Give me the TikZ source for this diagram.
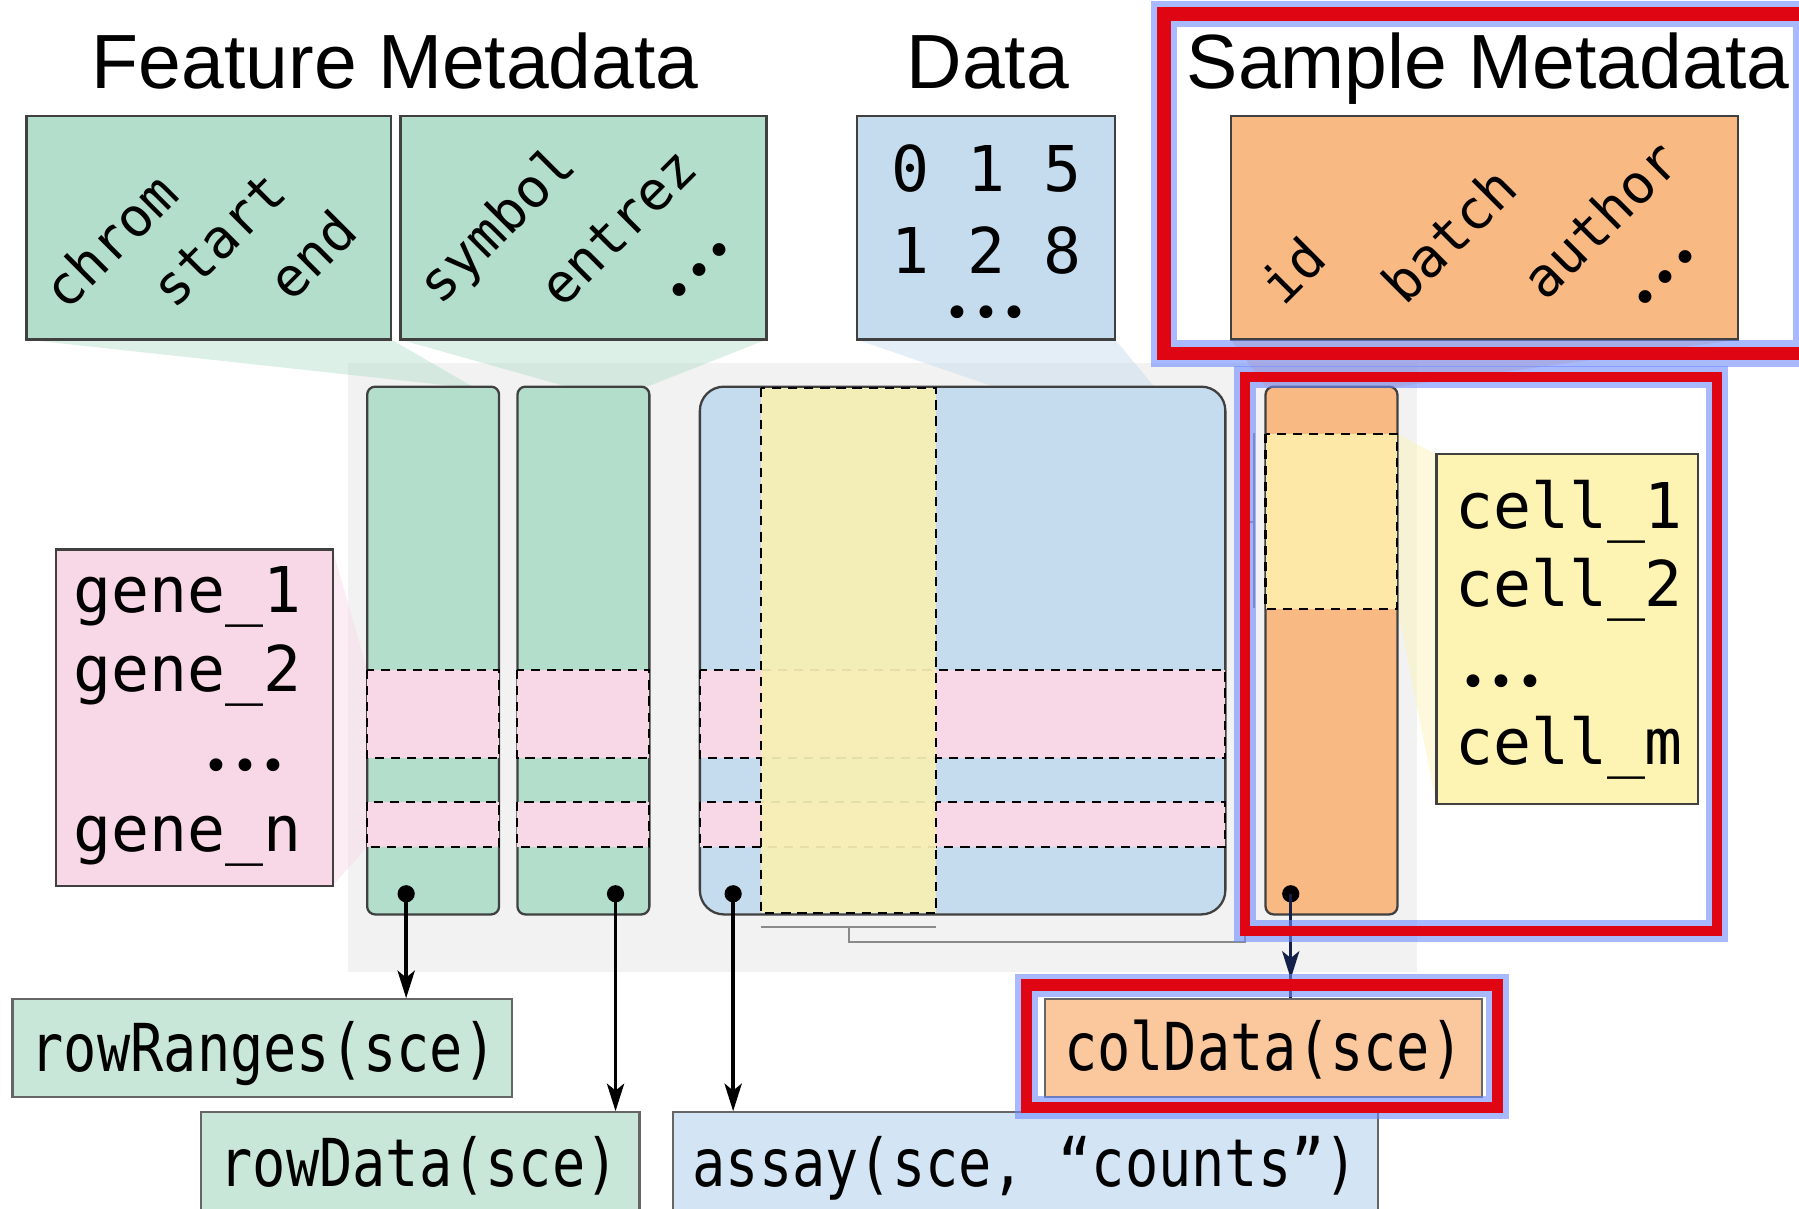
\documentclass[tikz,border=0pt]{standalone}
\usepackage{fontspec}
\usepackage{graphicx}
\setmainfont{Liberation Sans}
\newfontfamily\monof{DejaVu Sans Mono}
\newfontfamily\dotf{Fira Sans}
\usetikzlibrary{arrows.meta}

\definecolor{grn}{HTML}{B3DECB}
\definecolor{grnl}{HTML}{C9E7D9}
\definecolor{blu}{HTML}{C5DBEE}
\definecolor{blul}{HTML}{D3E5F4}
\definecolor{pnk}{HTML}{F8D8E6}
\definecolor{ylw}{HTML}{F7F0B4}
\definecolor{ylwc}{HTML}{FDF3B3}
\definecolor{org}{HTML}{F9B982}
\definecolor{orgl}{HTML}{FBC89D}
\definecolor{orgy}{HTML}{FDE8A8}
\definecolor{panel}{HTML}{F2F2F2}
\definecolor{hred}{HTML}{E00512}
\definecolor{glow}{RGB}{110,139,255}
\definecolor{edge}{HTML}{404040}
\definecolor{brkc}{HTML}{8A8A8A}
\definecolor{navy}{HTML}{14204A}

\tikzset{
  boxst/.style={draw=edge, line width=2pt, inner sep=0pt},
  colst/.style={draw=edge, line width=2pt, inner sep=0pt, rounded corners=7pt},
  matst/.style={draw=edge, line width=2pt, inner sep=0pt, rounded corners=21pt},
  bandst/.style={fill=pnk, draw=black, line width=1.8pt, dash pattern=on 8pt off 6pt},
  ttl/.style={font=\fontsize{67}{67}\selectfont, anchor=base, inner sep=0pt},
  monotxt/.style={font=\monof\fontsize{55}{55}\selectfont, inner sep=0pt},
  rottxt/.style={font=\monof\fontsize{47}{47}\selectfont, rotate=45, inner sep=0pt},
  dottxt/.style={font=\dotf\fontsize{80}{80}\selectfont, inner sep=0pt},
  lbltxt/.style={font=\monof\fontsize{57.6}{57.6}\selectfont, anchor=base, inner sep=0pt},
  funnelst/.style={fill=#1, opacity=0.45},
  glowline/.style={draw=glow, draw opacity=0.6, line width=#1},
  redline/.style={draw=hred, line width=#1},
  arrst/.style={line width=3pt, -{Stealth[length=24pt,width=15pt,inset=6pt]}},
  dotst/.style={circle, fill=black, inner sep=0pt, minimum size=15pt},
  brk/.style={draw=brkc, line width=2.2pt}
}
\newcommand{\lbltext}[1]{\scalebox{0.836}[1]{#1}}
\newcommand{\spdots}{.\kern5.5pt.\kern5.5pt.}

\begin{document}
\begin{tikzpicture}[x=1pt,y=-1pt]
\useasboundingbox (0,0) rectangle (1568,1053);
\fill[white] (0,0) rectangle (1568,1053);

% grey panel
\fill[panel] (303,316.5) rectangle (1235,847);

% funnels
\fill[funnelst=grn] (23,296) -- (341,296) -- (412,337) -- (400,337) -- cycle;
\fill[funnelst=grn] (349,296) -- (668,296) -- (564,337) -- (494,337) -- cycle;
\fill[funnelst=blu] (747,296) -- (972,296) -- (1006,337) -- (866,337) -- cycle;
\fill[funnelst=org] (1073,296) -- (1515,296) -- (1218,337) -- (1103,337) -- cycle;
\fill[funnelst=pnk] (290,479) -- (290,772) -- (320,738) -- (320,584) -- cycle;
\fill[funnelst=ylwc] (1218,378) -- (1252,396) -- (1252,701) -- (1218,531) -- cycle;

% titles
\node[ttl] (tfeat) at (344.5,77) {Feature Metadata};
\node[ttl] (tdata) at (861,77) {Data};
\node[ttl] (tsamp) at (1297,77) {Sample Metadata};

% top boxes
\node[boxst, fill=grn, minimum width=318pt, minimum height=195pt] (chrombox) at (182,198.5) {};
\node[boxst, fill=grn, minimum width=319pt, minimum height=195pt] (symbox) at (508.5,198.5) {};
\node[boxst, fill=blu, minimum width=225pt, minimum height=195pt] (databox) at (859.5,198.5) {};
\node[boxst, fill=org, minimum width=442pt, minimum height=195pt] (sampbox) at (1294,198.5) {};

% rotated column names
\node[rottxt] (wchrom) at (96,210) {chrom};
\node[rottxt] (wstart) at (191,209) {start};
\node[rottxt] (wend) at (272,222) {end};
\node[rottxt] (wsym) at (435,198) {symbol};
\node[rottxt] (wentrez) at (539,198) {entrez};
\node[dottxt, rotate=45] (wdots1) at (610,235) {\spdots};
\node[rottxt] (wid) at (1126,236) {id};
\node[rottxt] (wbatch) at (1263,205) {batch};
\node[rottxt] (wauthor) at (1395,191) {author};
\node[dottxt, rotate=45] (wdots2) at (1452,241) {\spdots};

% data numbers
\node[monotxt, anchor=base] (nrow1) at (859.5,167) {0 1 5};
\node[monotxt, anchor=base] (nrow2) at (859.5,238) {1 2 8};
\node[dottxt] (ndots) at (859.5,271.7) {\spdots};

% gene box
\node[boxst, fill=pnk, minimum width=241pt, minimum height=293pt] (genebox) at (169.5,625.5) {};
\node[monotxt, anchor=base west] (g1) at (64,534) {gene\_1};
\node[monotxt, anchor=base west] (g2) at (64,603) {gene\_2};
\node[dottxt] (gdots) at (213.7,667) {\spdots};
\node[monotxt, anchor=base west] (gn) at (64,742) {gene\_n};

% cell box
\node[boxst, fill=ylwc, minimum width=228pt, minimum height=305pt] (cellbox) at (1366,548.5) {};
\node[monotxt, anchor=base west] (c1) at (1268,461) {cell\_1};
\node[monotxt, anchor=base west] (c2) at (1268,528.7) {cell\_2};
\node[dottxt] (cdots) at (1309,593.6) {\spdots};
\node[monotxt, anchor=base west] (cm) at (1268,666) {cell\_m};

% columns and matrix
\node[colst, fill=grn, minimum width=115pt, minimum height=460pt] (col1) at (377.5,567) {};
\node[colst, fill=grn, minimum width=115pt, minimum height=460pt] (col2) at (508.5,567) {};
\node[matst, fill=blu, minimum width=458pt, minimum height=460pt] (mat) at (839,567) {};
\node[colst, fill=org, minimum width=115pt, minimum height=460pt] (ocol) at (1160.5,567) {};

% pink row bands
\foreach \xa/\xb in {320/435, 451/566, 610/1068}{
  \filldraw[bandst] (\xa,584) rectangle (\xb,661);
  \filldraw[bandst] (\xa,699) rectangle (\xb,738);
}
% yellow column in matrix
\filldraw[fill=ylw, fill opacity=0.93, draw=black, line width=1.8pt, dash pattern=on 8pt off 6pt] (663,338) rectangle (816,796);
% yellow band on sample column
\filldraw[fill=orgy, draw=black, line width=1.8pt, dash pattern=on 8pt off 6pt] (1103,378) rectangle (1218,531);

% brackets
\draw[brk] (663,808) -- (816,808);
\draw[brk] (740,808) -- (740,821) -- (1085,821) -- (1085,455) -- (1093,455);
\draw[brk] (1093,377) -- (1093,530);

% bottom labels
\node[boxst, draw=edge!80, fill=grnl, minimum width=435pt, minimum height=85pt] (rr) at (228.5,913.5) {};
\node[lbltxt] (rrt) at (229.7,934) {\lbltext{rowRanges(sce)}};
\node[boxst, draw=edge!80, fill=grnl, minimum width=382.5pt, minimum height=110.5pt] (rd) at (366.25,1024.75) {};
\node[lbltxt] (rdt) at (365.4,1034) {\lbltext{rowData(sce)}};
\node[boxst, draw=edge!80, fill=blul, minimum width=614.6pt, minimum height=110.5pt] (as) at (893.7,1024.75) {};
\node[lbltxt] (ast) at (893.6,1034) {\lbltext{assay(sce, “counts”)}};
\node[boxst, draw=edge!80, fill=orgl, minimum width=381pt, minimum height=85pt] (cd) at (1101,913.5) {};
\node[lbltxt] (cdt) at (1101.5,933) {\lbltext{colData(sce)}};

% dots and arrows
\node[dotst] (d1) at (354,779) {};
\node[dotst] (d2) at (536.5,779) {};
\node[dotst] (d3) at (639,779) {};
\node[dotst] (d4) at (1125,779) {};
\draw[arrst] (d1.center) -- (d1.center |- rr.north);
\draw[arrst] (d2.center) -- (d2.center |- rd.north);
\draw[arrst] (d3.center) -- (d3.center |- as.north);
\coordinate (cdtip) at (1125,853);
\draw[navy, line width=2.5pt] (d4.center) -- (d4.center |- cd.north);
\draw[arrst, navy, line width=2.5pt] (d4.center) -- (cdtip);

% red highlight frames with glow
\draw[glowline=23pt] (1014.4,12) rectangle (1574,308);
\draw[redline=12pt] (1014.4,12) rectangle (1574,308);
\draw[glowline=19pt] (1085,328.4) rectangle (1496.5,811.5);
\draw[redline=8.5pt] (1085,328.4) rectangle (1496.5,811.5);
\draw[glowline=20pt] (894.6,858.6) rectangle (1305,965.2);
\draw[redline=10pt] (894.6,858.6) rectangle (1305,965.2);
\end{tikzpicture}
\end{document}
